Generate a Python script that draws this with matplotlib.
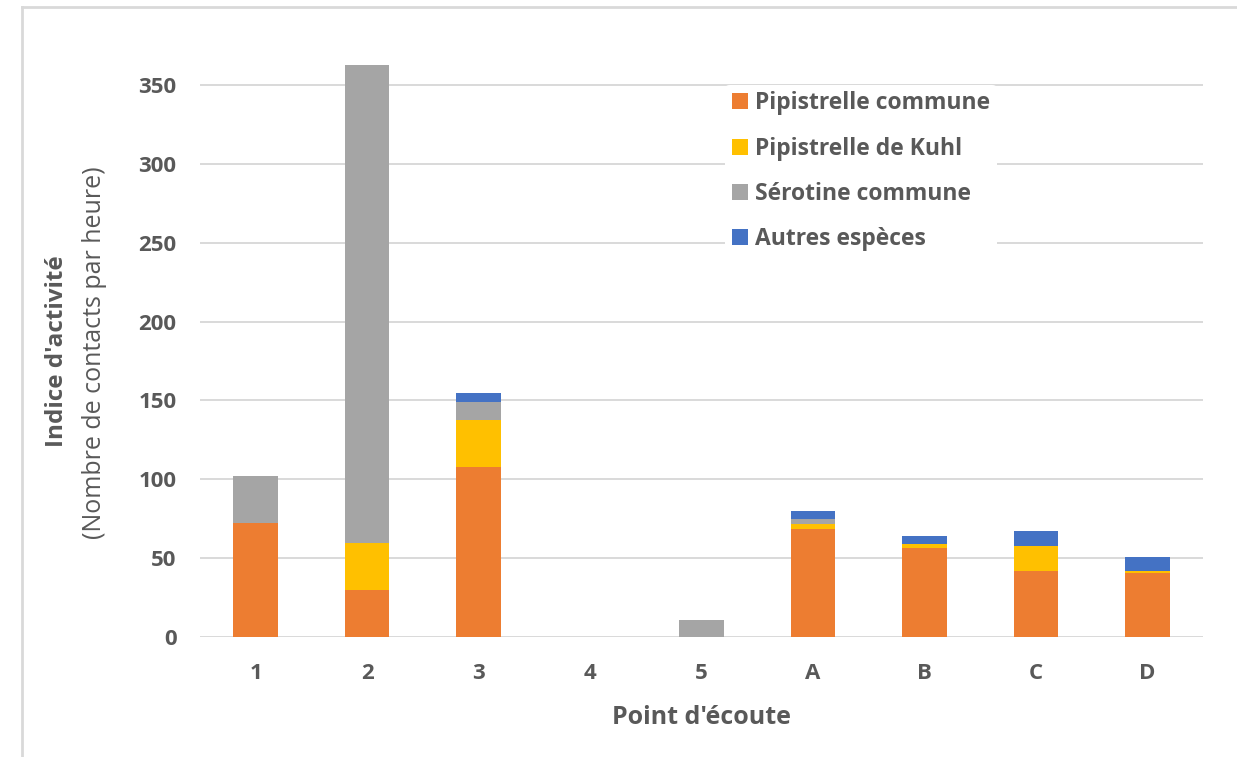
import matplotlib
matplotlib.use("Agg")
import matplotlib.pyplot as plt
from matplotlib.lines import Line2D
import numpy as np

# Activity index per listening point, stacked by species group
points = ["1", "2", "3", "4", "5", "A", "B", "C", "D"]
pipistrelle_commune = [72, 29.5, 107.5, 0, 0, 68.5, 56.5, 41.7, 40.4]
pipistrelle_kuhl = [0, 30, 30, 0, 0, 3.2, 2.1, 15.8, 1.1]
serotine_commune = [30, 303, 11.5, 0, 10.6, 3, 0, 0, 0]
autres_especes = [0, 0, 5.5, 0, 0, 5.3, 5.1, 9.4, 9.1]

series = [
    ("Pipistrelle commune", pipistrelle_commune, "#ED7D31"),
    ("Pipistrelle de Kuhl", pipistrelle_kuhl, "#FFC000"),
    ("Sérotine commune", serotine_commune, "#A5A5A5"),
    ("Autres espèces", autres_especes, "#4472C4"),
]
yticks = [0, 50, 100, 150, 200, 250, 300, 350]

plt.rcParams["font.family"] = ["Open Sans", "DejaVu Sans"]
text_color = "#595959"
grid_color = "#D9D9D9"

fig = plt.figure(figsize=(12.37, 7.57), dpi=100)
ax = fig.add_axes([0.1617, 0.1589, 0.8108, 0.7703])

x = np.arange(len(points))
bottom = np.zeros(len(points))
for label, vals, color in series:
    vals = np.array(vals, dtype=float)
    ax.bar(x, vals, width=0.4, bottom=bottom, color=color, label=label, zorder=3)
    bottom += vals

ax.set_xlim(-0.5, len(points) - 0.5)
ax.set_ylim(0, 370)
ax.set_yticks(yticks)
ax.set_xticks(x)
ax.set_xticklabels(points)

for y in yticks:
    ax.axhline(y, color=grid_color, linewidth=1.4, zorder=1)

for s in ax.spines.values():
    s.set_visible(False)

ax.tick_params(axis="both", length=0, labelsize=16, labelcolor=text_color)
ax.tick_params(axis="y", pad=17)
ax.tick_params(axis="x", pad=19)
for t in ax.get_xticklabels() + ax.get_yticklabels():
    t.set_fontweight("bold")

ax.set_xlabel("Point d'écoute", fontsize=18, fontweight="bold", color=text_color, labelpad=15)

fig.text(57 / 1237, 1 - 351 / 757, "Indice d'activité", rotation=90, ha="center", va="center",
         fontsize=17.5, fontweight="bold", color=text_color)
fig.text(95 / 1237, 1 - 353 / 757, "(Nombre de contacts par heure)", rotation=90, ha="center",
         va="center", fontsize=18, color=text_color)

leg = ax.legend(loc="upper left", bbox_to_anchor=(725 / 1237, 1 - 84.5 / 757),
                bbox_transform=fig.transFigure, frameon=True, edgecolor="none",
                facecolor="white", framealpha=1, fontsize=16.5, handlelength=0.7,
                handleheight=0.7, handletextpad=0.3, labelspacing=0.93,
                borderpad=0.3, borderaxespad=0)
leg.set_zorder(5)
for t in leg.get_texts():
    t.set_color(text_color)
    t.set_fontweight("bold")

# Light frame around the chart area
fig.add_artist(Line2D([22 / 1237, 22 / 1237], [0, 1 - 7 / 757], transform=fig.transFigure,
                      color=grid_color, linewidth=2))
fig.add_artist(Line2D([22 / 1237, 1], [1 - 7 / 757, 1 - 7 / 757], transform=fig.transFigure,
                      color=grid_color, linewidth=2))

fig.savefig("out.png", dpi=100)
